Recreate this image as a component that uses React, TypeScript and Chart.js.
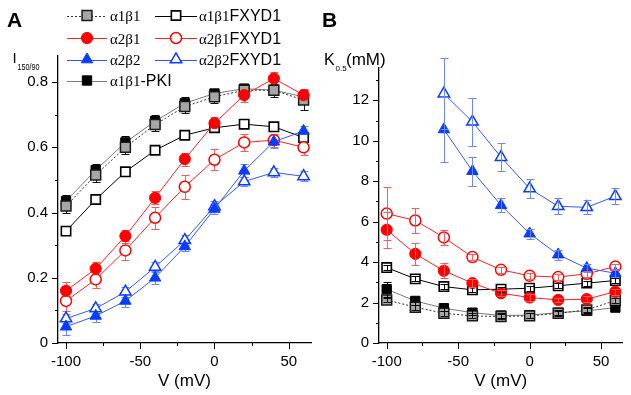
import React, { useEffect, useRef } from 'react';
import { Chart, registerables } from 'chart.js';
Chart.register(...registerables);

const SANS = '"Liberation Sans", Arial, sans-serif';
const SERIF = '"Liberation Serif", "Times New Roman", serif';

// ---------- data ----------
const voltages = [-100, -80, -60, -40, -20, 0, 20, 40, 60];

const xMajor = [-100, -50, 0, 50];
const xLabels = ['-100', '-50', '0', '50'];
const xMinor = [-75, -25, 25];

const yMajorA = [0, 0.2, 0.4, 0.6, 0.8];
const yLabelsA = ['0', '0.2', '0.4', '0.6', '0.8'];
const yMinorA = [0.1, 0.3, 0.5, 0.7];

const yMajorB = [0, 2, 4, 6, 8, 10, 12];
const yLabelsB = ['0', '2', '4', '6', '8', '10', '12'];
const yMinorB = [1, 3, 5, 7, 9, 11, 13];

// Panel A: I150/90
const iA1B1 = [0.42, 0.515, 0.6, 0.67, 0.725, 0.755, 0.775, 0.775, 0.745];
const iA1B1Err = [0.02, 0.02, 0.02, 0.02, 0.02, 0.02, 0.02, 0.02, 0.03];
const iA1B1FX = [0.343, 0.44, 0.525, 0.591, 0.637, 0.66, 0.671, 0.663, 0.63];
const iA1B1FXErr = [0.008, 0.008, 0.008, 0.008, 0.008, 0.008, 0.008, 0.008, 0.01];
const iA2B1 = [0.16, 0.228, 0.328, 0.445, 0.564, 0.674, 0.76, 0.811, 0.76];
const iA2B1Err = [0.027, 0.02, 0.02, 0.02, 0.02, 0.02, 0.02, 0.02, 0.02];
const iA2B1FX = [0.129, 0.195, 0.284, 0.384, 0.479, 0.562, 0.615, 0.622, 0.6];
const iA2B1FXErr = [0.03, 0.025, 0.028, 0.034, 0.036, 0.033, 0.025, 0.02, 0.025];
const iA2B2 = [0.05, 0.083, 0.129, 0.2, 0.296, 0.411, 0.528, 0.617, 0.65];
const iA2B2Err = [0.025, 0.02, 0.02, 0.02, 0.015, 0.015, 0.02, 0.02, 0.015];
const iA2B2FX = [0.075, 0.106, 0.157, 0.233, 0.315, 0.419, 0.495, 0.523, 0.511];
const iA2B2FXErr = [0.015, 0.015, 0.015, 0.015, 0.015, 0.015, 0.015, 0.015, 0.015];
const iPKI = [0.435, 0.53, 0.615, 0.68, 0.735, 0.765, 0.78, 0.775, 0.755];
const iPKIErr = [0.02, 0.02, 0.02, 0.02, 0.02, 0.015, 0.01, 0.01, 0.01];

// Panel B: K0.5 (mM)
const kA1B1 = [2.13, 1.77, 1.47, 1.34, 1.31, 1.34, 1.47, 1.64, 2.1];
const kA1B1Err = [0.12, 0.12, 0.12, 0.12, 0.12, 0.12, 0.12, 0.12, 0.12];
const kA1B1FX = [3.73, 3.17, 2.79, 2.63, 2.66, 2.71, 2.83, 2.96, 3.09];
const kA1B1FXErr = [0.12, 0.12, 0.12, 0.12, 0.12, 0.12, 0.12, 0.12, 0.12];
const kA2B1 = [5.6, 4.41, 3.57, 2.96, 2.46, 2.25, 2.13, 2.17, 2.54];
const kA2B1Err = [0.9, 0.55, 0.38, 0.2, 0.15, 0.15, 0.12, 0.15, 0.15];
const kA2B1FX = [6.4, 6.06, 5.22, 4.25, 3.62, 3.32, 3.26, 3.42, 3.78];
const kA2B1FXErr = [1.3, 0.6, 0.35, 0.15, 0.15, 0.15, 0.15, 0.15, 0.15];
const kA2B2 = [null, null, 10.56, 8.5, 6.81, 5.41, 4.37, 3.7, 3.45];
const kA2B2Err = [null, null, 1.6, 0.72, 0.35, 0.25, 0.25, 0.2, 0.2];
const kA2B2FX = [null, null, 12.33, 10.94, 9.19, 7.64, 6.76, 6.71, 7.26];
const kA2B2FXErr = [null, null, 1.75, 1.2, 0.7, 0.45, 0.4, 0.35, 0.4];
const kPKI = [2.66, 2.08, 1.72, 1.5, 1.36, 1.38, 1.5, 1.59, 1.75];
const kPKIErr = [0.38, 0.2, 0.15, 0.12, 0.12, 0.12, 0.12, 0.12, 0.12];

// ---------- styles ----------
type Shape = 'rect' | 'circle' | 'triangle';
interface SeriesStyle {
  fill: string; stroke: string; shape: Shape; r: number; bw: number;
  line: string; dash: number[]; err: string; order: number;
}
const RED = '#ff0000';
const BLUE = '#0a3cff';
const styles: Record<string, SeriesStyle> = {
  a1b1: { fill: '#a6a6a6', stroke: '#1a1a1a', shape: 'rect', r: 7, bw: 1.5, line: '#333333', dash: [2, 2], err: '#111111', order: 4 },
  a1b1fx: { fill: '#ffffff', stroke: '#000000', shape: 'rect', r: 6.6, bw: 1.6, line: '#000000', dash: [], err: '#000000', order: 6 },
  a2b1: { fill: RED, stroke: RED, shape: 'circle', r: 5.6, bw: 1, line: '#ff2020', dash: [], err: '#ff5a5a', order: 2 },
  a2b1fx: { fill: '#ffffff', stroke: RED, shape: 'circle', r: 5.5, bw: 1.5, line: '#ff2020', dash: [], err: '#ff5a5a', order: 3 },
  a2b2: { fill: BLUE, stroke: BLUE, shape: 'triangle', r: 6.6, bw: 1, line: '#3358ff', dash: [], err: '#6b86ff', order: 0 },
  a2b2fx: { fill: '#ffffff', stroke: BLUE, shape: 'triangle', r: 6.6, bw: 1.5, line: '#3358ff', dash: [], err: '#6b86ff', order: 1 },
  pki: { fill: '#000000', stroke: '#000000', shape: 'rect', r: 6.6, bw: 1, line: '#7a7a7a', dash: [], err: '#000000', order: 5 },
};

const legendItems = [
  { key: 'a1b1', serif: 'α1β1', sans: '', col: 0, row: 0 },
  { key: 'a1b1fx', serif: 'α1β1', sans: 'FXYD1', col: 1, row: 0 },
  { key: 'a2b1', serif: 'α2β1', sans: '', col: 0, row: 1 },
  { key: 'a2b1fx', serif: 'α2β1', sans: 'FXYD1', col: 1, row: 1 },
  { key: 'a2b2', serif: 'α2β2', sans: '', col: 0, row: 2 },
  { key: 'a2b2fx', serif: 'α2β2', sans: 'FXYD1', col: 1, row: 2 },
  { key: 'pki', serif: 'α1β1', sans: '-PKI', col: 0, row: 3 },
];

const seriesA = [
  { key: 'a1b1', values: iA1B1, err: iA1B1Err },
  { key: 'a1b1fx', values: iA1B1FX, err: iA1B1FXErr },
  { key: 'a2b1', values: iA2B1, err: iA2B1Err },
  { key: 'a2b1fx', values: iA2B1FX, err: iA2B1FXErr },
  { key: 'a2b2', values: iA2B2, err: iA2B2Err },
  { key: 'a2b2fx', values: iA2B2FX, err: iA2B2FXErr },
  { key: 'pki', values: iPKI, err: iPKIErr },
];
const seriesB = [
  { key: 'a1b1', values: kA1B1, err: kA1B1Err },
  { key: 'a1b1fx', values: kA1B1FX, err: kA1B1FXErr },
  { key: 'a2b1', values: kA2B1, err: kA2B1Err },
  { key: 'a2b1fx', values: kA2B1FX, err: kA2B1FXErr },
  { key: 'a2b2', values: kA2B2, err: kA2B2Err },
  { key: 'a2b2fx', values: kA2B2FX, err: kA2B2FXErr },
  { key: 'pki', values: kPKI, err: kPKIErr },
];

function drawMarker(ctx: CanvasRenderingContext2D, st: SeriesStyle, x: number, y: number) {
  const r = st.r;
  ctx.save();
  ctx.beginPath();
  if (st.shape === 'rect') {
    const s = r * Math.SQRT1_2;
    ctx.rect(x - s, y - s, 2 * s, 2 * s);
  } else if (st.shape === 'circle') {
    ctx.arc(x, y, r, 0, Math.PI * 2);
  } else {
    ctx.moveTo(x, y - r);
    ctx.lineTo(x + r * 0.866, y + r / 2);
    ctx.lineTo(x - r * 0.866, y + r / 2);
    ctx.closePath();
  }
  ctx.fillStyle = st.fill;
  ctx.fill();
  ctx.lineWidth = st.bw;
  ctx.strokeStyle = st.stroke;
  ctx.stroke();
  ctx.restore();
}

function buildDatasets(series: { key: string; values: (number | null)[] }[]) {
  return series.map((s) => {
    const st = styles[s.key];
    return {
      label: s.key,
      data: voltages.map((v, i) => ({ x: v, y: s.values[i] })),
      showLine: true,
      borderColor: st.line,
      borderWidth: 1,
      borderDash: st.dash,
      pointStyle: st.shape,
      pointRadius: st.r,
      pointHoverRadius: st.r,
      pointBackgroundColor: st.fill,
      pointBorderColor: st.stroke,
      pointBorderWidth: st.bw,
      order: st.order,
      clip: false as any,
      tension: 0,
    };
  });
}

function errorBarPlugin(series: { key: string; values: (number | null)[]; err: (number | null)[] }[], after: boolean) {
  const draw = (chart: any) => {
    const ctx = chart.ctx;
    const xs = chart.scales.x;
    const ys = chart.scales.y;
    ctx.save();
    ctx.lineWidth = 1;
    for (const s of series) {
      const st = styles[s.key];
      ctx.strokeStyle = st.err;
      ctx.beginPath();
      voltages.forEach((v, i) => {
        const val = s.values[i];
        const e = s.err[i];
        if (val == null || e == null) return;
        const px = Math.round(xs.getPixelForValue(v)) + 0.5;
        const top = Math.round(ys.getPixelForValue(val + e)) + 0.5;
        const bot = Math.round(ys.getPixelForValue(val - e)) + 0.5;
        ctx.moveTo(px, top);
        ctx.lineTo(px, bot);
        ctx.moveTo(px - 4, top);
        ctx.lineTo(px + 4, top);
        ctx.moveTo(px - 4, bot);
        ctx.lineTo(px + 4, bot);
      });
      ctx.stroke();
    }
    ctx.restore();
  };
  return after
    ? { id: 'errbars', afterDatasetsDraw: draw }
    : { id: 'errbars', beforeDatasetsDraw: draw };
}

function tickPlugin(yMajor: number[], yMinor: number[]) {
  return {
    id: 'tickmarks',
    afterDraw(chart: any) {
      const ctx = chart.ctx;
      const xs = chart.scales.x;
      const ys = chart.scales.y;
      const ca = chart.chartArea;
      ctx.save();
      ctx.strokeStyle = '#000';
      ctx.lineWidth = 1;
      ctx.beginPath();
      const xt = (v: number, len: number) => {
        const px = Math.round(xs.getPixelForValue(v)) + 0.5;
        ctx.moveTo(px, ca.bottom);
        ctx.lineTo(px, ca.bottom + len);
      };
      const yt = (v: number, len: number) => {
        const py = Math.round(ys.getPixelForValue(v)) + 0.5;
        ctx.moveTo(ca.left, py);
        ctx.lineTo(ca.left - len, py);
      };
      xMajor.forEach((v) => xt(v, 6));
      xMinor.forEach((v) => xt(v, 3));
      yMajor.forEach((v) => yt(v, 6));
      yMinor.forEach((v) => yt(v, 3));
      ctx.stroke();
      ctx.restore();
    },
  };
}

function textPlugin(draw: (ctx: CanvasRenderingContext2D) => void) {
  return {
    id: 'texts',
    afterDraw(chart: any) {
      const ctx = chart.ctx as CanvasRenderingContext2D;
      ctx.save();
      draw(ctx);
      ctx.restore();
    },
  };
}

function drawLegend(ctx: CanvasRenderingContext2D) {
  const rowY = [15.5, 38, 59.5, 80.5];
  const cols = [
    { x0: 67, x1: 107, mx: 87, tx: 110 },
    { x0: 155, x1: 197, mx: 176, tx: 199 },
  ];
  for (const it of legendItems) {
    const st = styles[it.key];
    const c = cols[it.col];
    const y = rowY[it.row];
    ctx.save();
    ctx.strokeStyle = st.line;
    ctx.lineWidth = 1;
    ctx.setLineDash(st.dash);
    ctx.beginPath();
    ctx.moveTo(c.x0, Math.round(y) + 0.5);
    ctx.lineTo(c.x1, Math.round(y) + 0.5);
    ctx.stroke();
    ctx.restore();
    drawMarker(ctx, st, c.mx, y);
    ctx.fillStyle = '#000';
    ctx.textBaseline = 'alphabetic';
    ctx.textAlign = 'left';
    ctx.font = `15px ${SERIF}`;
    ctx.fillText(it.serif, c.tx, y + 5.5);
    const w = ctx.measureText(it.serif).width;
    if (it.sans) {
      ctx.font = `16px ${SANS}`;
      ctx.fillText(it.sans, c.tx + w, y + 5.5);
    }
  }
}

function makeOptions(yMin: number, yMax: number, yMajor: number[], yLabels: string[], yMinor: number[], yWidth: number, padTop: number, padRight: number) {
  return {
    responsive: false,
    animation: false as const,
    events: [] as any[],
    layout: { padding: { left: 0, top: padTop, right: padRight, bottom: 0 } },
    plugins: { legend: { display: false }, tooltip: { enabled: false } },
    scales: {
      x: {
        type: 'linear' as const,
        min: -105.4,
        max: 65,
        afterBuildTicks: (s: any) => {
          s.ticks = [...xMajor, ...xMinor].sort((a, b) => a - b).map((v) => ({ value: v }));
        },
        afterFit: (s: any) => { s.height = 52; },
        ticks: {
          autoSkip: false,
          maxRotation: 0,
          minRotation: 0,
          padding: 4,
          color: '#000',
          font: { family: SANS, size: 15 },
          callback: (v: any) => {
            const i = xMajor.indexOf(v);
            return i >= 0 ? xLabels[i] : '';
          },
        },
        grid: { drawOnChartArea: false, drawTicks: true, tickLength: 6, color: 'rgba(0,0,0,0)' },
        border: { display: true, color: '#000', width: 1.3 },
        title: { display: true, text: 'V (mV)', color: '#000', font: { family: SANS, size: 17 }, padding: { top: 0, bottom: 3 } },
      },
      y: {
        type: 'linear' as const,
        min: yMin,
        max: yMax,
        afterBuildTicks: (s: any) => {
          s.ticks = [...yMajor, ...yMinor].sort((a, b) => a - b).map((v) => ({ value: v }));
        },
        afterFit: (s: any) => { s.width = yWidth; },
        ticks: {
          autoSkip: false,
          padding: 4,
          color: '#000',
          font: { family: SANS, size: 15 },
          callback: (v: any) => {
            const i = yMajor.indexOf(v);
            return i >= 0 ? yLabels[i] : '';
          },
        },
        grid: { drawOnChartArea: false, drawTicks: true, tickLength: 6, color: 'rgba(0,0,0,0)' },
        border: { display: true, color: '#000', width: 1.3 },
      },
    },
  };
}

export default function App() {
  const refA = useRef<HTMLCanvasElement>(null);
  const refB = useRef<HTMLCanvasElement>(null);

  useEffect(() => {
    document.body.style.margin = '0';
    const chartA = new Chart(refA.current!, {
      type: 'line',
      data: { datasets: buildDatasets(seriesA) as any },
      options: makeOptions(0, 0.88, yMajorA, yLabelsA, yMinorA, 58, 56, 9) as any,
      plugins: [
        errorBarPlugin(seriesA, false),
        tickPlugin(yMajorA, yMinorA),
        textPlugin((ctx) => {
          ctx.fillStyle = '#000';
          ctx.textAlign = 'left';
          ctx.textBaseline = 'alphabetic';
          ctx.font = `bold 21px ${SANS}`;
          ctx.fillText('A', 7, 27);
          ctx.font = `15px ${SANS}`;
          ctx.fillText('I', 12.5, 63);
          ctx.save();
          ctx.translate(17.5, 70);
          ctx.scale(0.85, 1);
          ctx.font = `8.5px ${SANS}`;
          ctx.fillText('150/90', 0, 0);
          ctx.restore();
          drawLegend(ctx);
        }),
      ],
    });
    const chartB = new Chart(refB.current!, {
      type: 'line',
      data: { datasets: buildDatasets(seriesB) as any },
      options: makeOptions(0, 13.6, yMajorB, yLabelsB, yMinorB, 59, 68, 1) as any,
      plugins: [
        errorBarPlugin(seriesB, true),
        tickPlugin(yMajorB, yMinorB),
        textPlugin((ctx) => {
          ctx.fillStyle = '#000';
          ctx.textAlign = 'left';
          ctx.textBaseline = 'alphabetic';
          ctx.font = `bold 21px ${SANS}`;
          ctx.fillText('B', 2, 27);
          ctx.font = `16px ${SANS}`;
          ctx.fillText('K', 4, 65);
          ctx.font = `8px ${SANS}`;
          ctx.fillText('0.5', 15.5, 71);
          ctx.font = `17px ${SANS}`;
          ctx.fillText('(mM)', 26, 65);
        }),
      ],
    });
    return () => {
      chartA.destroy();
      chartB.destroy();
    };
  }, []);

  return (
    <div style={{ position: 'fixed', left: 0, top: 0, width: 631, height: 395, background: '#fff' }}>
      <canvas ref={refA} width={320} height={395} style={{ position: 'absolute', left: 0, top: 0, width: 320, height: 395 }} />
      <canvas ref={refB} width={311} height={395} style={{ position: 'absolute', left: 320, top: 0, width: 311, height: 395 }} />
    </div>
  );
}
